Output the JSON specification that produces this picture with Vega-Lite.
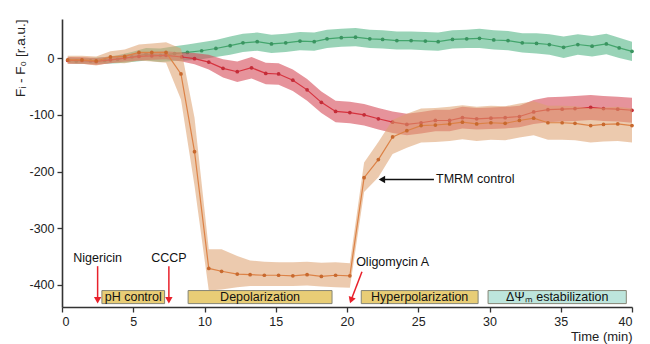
{
  "$schema": "https://vega.github.io/schema/vega-lite/v6.json",
  "width": 570,
  "height": 288,
  "autosize": {"type": "none"},
  "padding": {"left": 62, "top": 19, "right": 18, "bottom": 37},
  "background": "white",
  "config": {
    "view": {"stroke": null},
    "font": "Liberation Sans",
    "axis": {
      "grid": false,
      "domainColor": "#333",
      "domainWidth": 1.6,
      "tickColor": "#333",
      "tickWidth": 1.3,
      "labelFont": "Liberation Sans",
      "labelFontSize": 12.5,
      "labelColor": "#222",
      "titleFont": "Liberation Sans",
      "titleFontSize": 13,
      "titleFontWeight": "normal",
      "titleColor": "#222"
    }
  },
  "datasets": {
    "series": [
      {"s": "g", "t": 0.5, "v": -4, "lo": -9, "hi": 1},
      {"s": "g", "t": 1.0, "v": -5, "lo": -10, "hi": 0},
      {"s": "g", "t": 2.0, "v": -5, "lo": -10, "hi": 0},
      {"s": "g", "t": 3.0, "v": -4, "lo": -10, "hi": 2},
      {"s": "g", "t": 3.9, "v": -2, "lo": -9, "hi": 5},
      {"s": "g", "t": 4.9, "v": 2, "lo": -7, "hi": 11},
      {"s": "g", "t": 5.9, "v": 7, "lo": -4, "hi": 18},
      {"s": "g", "t": 6.9, "v": 5, "lo": -7, "hi": 17},
      {"s": "g", "t": 7.9, "v": 8, "lo": -5, "hi": 21},
      {"s": "g", "t": 8.8, "v": 10, "lo": -4, "hi": 24},
      {"s": "g", "t": 9.8, "v": 13, "lo": -2, "hi": 28},
      {"s": "g", "t": 10.8, "v": 17, "lo": 2, "hi": 32},
      {"s": "g", "t": 11.8, "v": 22, "lo": 6, "hi": 38},
      {"s": "g", "t": 12.7, "v": 27, "lo": 11, "hi": 43},
      {"s": "g", "t": 13.7, "v": 29, "lo": 13, "hi": 45},
      {"s": "g", "t": 14.7, "v": 25, "lo": 9, "hi": 41},
      {"s": "g", "t": 15.7, "v": 27, "lo": 11, "hi": 43},
      {"s": "g", "t": 16.7, "v": 30, "lo": 14, "hi": 46},
      {"s": "g", "t": 17.7, "v": 29, "lo": 13, "hi": 45},
      {"s": "g", "t": 18.6, "v": 34, "lo": 18, "hi": 50},
      {"s": "g", "t": 19.6, "v": 36, "lo": 20, "hi": 52},
      {"s": "g", "t": 20.6, "v": 37, "lo": 21, "hi": 53},
      {"s": "g", "t": 21.6, "v": 34, "lo": 18, "hi": 50},
      {"s": "g", "t": 22.5, "v": 33, "lo": 17, "hi": 49},
      {"s": "g", "t": 23.5, "v": 31, "lo": 15, "hi": 47},
      {"s": "g", "t": 24.5, "v": 31, "lo": 15, "hi": 47},
      {"s": "g", "t": 25.5, "v": 30, "lo": 14, "hi": 46},
      {"s": "g", "t": 26.4, "v": 29, "lo": 13, "hi": 45},
      {"s": "g", "t": 27.4, "v": 33, "lo": 17, "hi": 49},
      {"s": "g", "t": 28.4, "v": 34, "lo": 18, "hi": 50},
      {"s": "g", "t": 29.3, "v": 35, "lo": 18, "hi": 52},
      {"s": "g", "t": 30.3, "v": 32, "lo": 15, "hi": 49},
      {"s": "g", "t": 31.3, "v": 31, "lo": 14, "hi": 48},
      {"s": "g", "t": 32.3, "v": 27, "lo": 10, "hi": 44},
      {"s": "g", "t": 33.3, "v": 26, "lo": 8, "hi": 44},
      {"s": "g", "t": 34.2, "v": 24, "lo": 6, "hi": 42},
      {"s": "g", "t": 35.2, "v": 19, "lo": 0, "hi": 38},
      {"s": "g", "t": 36.2, "v": 24, "lo": 6, "hi": 42},
      {"s": "g", "t": 37.2, "v": 21, "lo": 3, "hi": 39},
      {"s": "g", "t": 38.2, "v": 25, "lo": 7, "hi": 43},
      {"s": "g", "t": 39.1, "v": 18, "lo": 0, "hi": 36},
      {"s": "g", "t": 40.0, "v": 12, "lo": -5, "hi": 29},

      {"s": "r", "t": 0.4, "v": -4, "lo": -10, "hi": 2},
      {"s": "r", "t": 1.4, "v": -4, "lo": -10, "hi": 2},
      {"s": "r", "t": 2.4, "v": -6, "lo": -12, "hi": 0},
      {"s": "r", "t": 3.4, "v": -3, "lo": -9, "hi": 3},
      {"s": "r", "t": 4.4, "v": 0, "lo": -6, "hi": 6},
      {"s": "r", "t": 5.4, "v": 3, "lo": -4, "hi": 10},
      {"s": "r", "t": 6.3, "v": 4, "lo": -3, "hi": 11},
      {"s": "r", "t": 7.3, "v": 5, "lo": -2, "hi": 12},
      {"s": "r", "t": 8.4, "v": 2, "lo": -6, "hi": 10},
      {"s": "r", "t": 9.3, "v": -1, "lo": -11, "hi": 9},
      {"s": "r", "t": 10.3, "v": -7, "lo": -20, "hi": 6},
      {"s": "r", "t": 11.3, "v": -18, "lo": -34, "hi": -2},
      {"s": "r", "t": 12.3, "v": -24, "lo": -42, "hi": -6},
      {"s": "r", "t": 13.3, "v": -17, "lo": -36, "hi": 2},
      {"s": "r", "t": 14.3, "v": -27, "lo": -46, "hi": -8},
      {"s": "r", "t": 15.2, "v": -28, "lo": -47, "hi": -9},
      {"s": "r", "t": 16.2, "v": -39, "lo": -58, "hi": -20},
      {"s": "r", "t": 17.2, "v": -56, "lo": -75, "hi": -37},
      {"s": "r", "t": 18.2, "v": -78, "lo": -97, "hi": -59},
      {"s": "r", "t": 19.2, "v": -94, "lo": -113, "hi": -75},
      {"s": "r", "t": 20.2, "v": -96, "lo": -115, "hi": -77},
      {"s": "r", "t": 21.2, "v": -100, "lo": -119, "hi": -81},
      {"s": "r", "t": 22.2, "v": -107, "lo": -126, "hi": -88},
      {"s": "r", "t": 23.2, "v": -113, "lo": -132, "hi": -94},
      {"s": "r", "t": 24.2, "v": -117, "lo": -136, "hi": -98},
      {"s": "r", "t": 25.2, "v": -114, "lo": -133, "hi": -95},
      {"s": "r", "t": 26.2, "v": -110, "lo": -129, "hi": -91},
      {"s": "r", "t": 27.2, "v": -110, "lo": -129, "hi": -91},
      {"s": "r", "t": 28.1, "v": -105, "lo": -124, "hi": -86},
      {"s": "r", "t": 29.1, "v": -107, "lo": -126, "hi": -88},
      {"s": "r", "t": 30.1, "v": -106, "lo": -125, "hi": -87},
      {"s": "r", "t": 31.1, "v": -105, "lo": -124, "hi": -86},
      {"s": "r", "t": 32.1, "v": -103, "lo": -122, "hi": -84},
      {"s": "r", "t": 33.1, "v": -95, "lo": -116, "hi": -74},
      {"s": "r", "t": 34.1, "v": -91, "lo": -113, "hi": -69},
      {"s": "r", "t": 35.1, "v": -90, "lo": -112, "hi": -68},
      {"s": "r", "t": 36.0, "v": -89, "lo": -111, "hi": -67},
      {"s": "r", "t": 37.1, "v": -87, "lo": -109, "hi": -65},
      {"s": "r", "t": 38.0, "v": -89, "lo": -111, "hi": -67},
      {"s": "r", "t": 39.0, "v": -90, "lo": -112, "hi": -68},
      {"s": "r", "t": 40.0, "v": -92, "lo": -114, "hi": -70},

      {"s": "o", "t": 0.4, "v": -3, "lo": -10, "hi": 4},
      {"s": "o", "t": 1.4, "v": -3, "lo": -10, "hi": 4},
      {"s": "o", "t": 2.4, "v": -5, "lo": -13, "hi": 3},
      {"s": "o", "t": 3.4, "v": 2, "lo": -8, "hi": 12},
      {"s": "o", "t": 4.4, "v": 3, "lo": -9, "hi": 15},
      {"s": "o", "t": 5.4, "v": 10, "lo": -4, "hi": 24},
      {"s": "o", "t": 6.3, "v": 10, "lo": -6, "hi": 26},
      {"s": "o", "t": 7.3, "v": 10, "lo": -8, "hi": 28},
      {"s": "o", "t": 8.35, "v": -28, "lo": -73, "hi": 17},
      {"s": "o", "t": 9.3, "v": -165, "lo": -225, "hi": -105},
      {"s": "o", "t": 10.3, "v": -371, "lo": -410, "hi": -337},
      {"s": "o", "t": 11.2, "v": -376, "lo": -408, "hi": -337},
      {"s": "o", "t": 12.3, "v": -381, "lo": -404, "hi": -349},
      {"s": "o", "t": 13.2, "v": -382, "lo": -402, "hi": -357},
      {"s": "o", "t": 14.2, "v": -383, "lo": -402, "hi": -359},
      {"s": "o", "t": 15.2, "v": -383, "lo": -402, "hi": -360},
      {"s": "o", "t": 16.2, "v": -384, "lo": -402, "hi": -360},
      {"s": "o", "t": 17.2, "v": -382, "lo": -401, "hi": -359},
      {"s": "o", "t": 18.2, "v": -385, "lo": -403, "hi": -361},
      {"s": "o", "t": 19.2, "v": -383, "lo": -404, "hi": -360},
      {"s": "o", "t": 20.2, "v": -384, "lo": -405, "hi": -362},
      {"s": "o", "t": 21.2, "v": -211, "lo": -236, "hi": -184},
      {"s": "o", "t": 22.2, "v": -179, "lo": -210, "hi": -148},
      {"s": "o", "t": 23.2, "v": -139, "lo": -169, "hi": -109},
      {"s": "o", "t": 24.2, "v": -128, "lo": -158, "hi": -98},
      {"s": "o", "t": 25.2, "v": -119, "lo": -149, "hi": -89},
      {"s": "o", "t": 26.2, "v": -118, "lo": -148, "hi": -88},
      {"s": "o", "t": 27.2, "v": -116, "lo": -146, "hi": -86},
      {"s": "o", "t": 28.1, "v": -113, "lo": -143, "hi": -83},
      {"s": "o", "t": 29.1, "v": -116, "lo": -146, "hi": -86},
      {"s": "o", "t": 30.1, "v": -114, "lo": -144, "hi": -84},
      {"s": "o", "t": 31.1, "v": -115, "lo": -145, "hi": -85},
      {"s": "o", "t": 32.1, "v": -110, "lo": -140, "hi": -80},
      {"s": "o", "t": 33.1, "v": -106, "lo": -136, "hi": -76},
      {"s": "o", "t": 34.1, "v": -114, "lo": -144, "hi": -84},
      {"s": "o", "t": 35.1, "v": -114, "lo": -144, "hi": -84},
      {"s": "o", "t": 36.0, "v": -115, "lo": -145, "hi": -85},
      {"s": "o", "t": 37.1, "v": -119, "lo": -149, "hi": -89},
      {"s": "o", "t": 38.0, "v": -117, "lo": -147, "hi": -87},
      {"s": "o", "t": 39.0, "v": -116, "lo": -146, "hi": -86},
      {"s": "o", "t": 40.0, "v": -119, "lo": -149, "hi": -89}
    ],
    "phases": [
      {"name": "pH control", "kind": "drug", "x1": 2.8, "x2": 7.2, "xc": 5.0, "y1": -410, "y2": -433, "yc": -421},
      {"name": "Depolarization", "kind": "drug", "x1": 8.85, "x2": 18.95, "xc": 13.9, "y1": -410, "y2": -433, "yc": -421},
      {"name": "Hyperpolarization", "kind": "drug", "x1": 21.0, "x2": 29.2, "xc": 25.1, "y1": -410, "y2": -433, "yc": -421},
      {"name": "ΔΨₘ estabilization", "kind": "stab", "x1": 29.9, "x2": 39.6, "xc": 34.75, "y1": -410, "y2": -433, "yc": -421}
    ],
    "arrows": [
      {"name": "Nigericin", "kind": "red", "dir": "down", "x1": 2.5, "y1": -367, "x2": 2.5, "y2": -424, "hx": 2.5, "hy": -427},
      {"name": "CCCP", "kind": "red", "dir": "down", "x1": 7.5, "y1": -367, "x2": 7.5, "y2": -424, "hx": 7.5, "hy": -427},
      {"name": "Oligomycin A", "kind": "red", "dir": "diag", "x1": 21.05, "y1": -377, "x2": 20.33, "y2": -424, "hx": 20.29, "hy": -427},
      {"name": "TMRM control", "kind": "black", "dir": "left", "x1": 26.1, "y1": -214, "x2": 22.6, "y2": -214, "hx": 22.45, "hy": -214}
    ],
    "labels": [
      {"text": "Nigericin", "t": 2.5, "v": -352},
      {"text": "CCCP", "t": 7.5, "v": -352},
      {"text": "Oligomycin A", "t": 23.2, "v": -360},
      {"text": "TMRM control", "t": 29.0, "v": -214}
    ]
  },
  "layer": [
    {
      "data": {"name": "series"},
      "transform": [{"filter": "datum.s === 'g'"}],
      "mark": {"type": "area", "color": "#4fb383", "opacity": 0.58},
      "encoding": {
        "x": {"field": "t", "type": "quantitative", "scale": {"domain": [0, 40], "nice": false, "zero": false},
          "axis": {"title": "Time (min)", "titleAnchor": "end", "titlePadding": 3,
            "values": [0, 2.5, 5, 7.5, 10, 12.5, 15, 17.5, 20, 22.5, 25, 27.5, 30, 32.5, 35, 37.5, 40],
            "labelExpr": "datum.value % 5 === 0 ? datum.label : ''",
            "tickSize": {"condition": {"test": "datum.value % 5 === 0", "value": 5}, "value": 3},
            "labelPadding": 3}},
        "y": {"field": "lo", "type": "quantitative", "scale": {"domain": [-439, 69], "nice": false, "zero": false},
          "axis": {"title": "Fᵢ - F₀ [r.a.u.]", "titleAnchor": "end", "titlePadding": 1, "titleFontSize": 13.5,
            "values": [-400, -350, -300, -250, -200, -150, -100, -50, 0],
            "labelExpr": "datum.value % 100 === 0 ? toString(datum.value) : ''",
            "tickSize": {"condition": {"test": "datum.value % 100 === 0", "value": 5}, "value": 3},
            "labelPadding": 3}},
        "y2": {"field": "hi"}
      }
    },
    {
      "data": {"name": "series"},
      "transform": [{"filter": "datum.s === 'g'"}],
      "mark": {"type": "line", "color": "#43a56c", "strokeWidth": 1.2, "point": {"filled": true, "size": 14, "color": "#3a9460"}},
      "encoding": {"x": {"field": "t", "type": "quantitative"}, "y": {"field": "v", "type": "quantitative"}}
    },
    {
      "data": {"name": "series"},
      "transform": [{"filter": "datum.s === 'r'"}],
      "mark": {"type": "area", "color": "#d64b58", "opacity": 0.6},
      "encoding": {"x": {"field": "t", "type": "quantitative"}, "y": {"field": "lo", "type": "quantitative"}, "y2": {"field": "hi"}}
    },
    {
      "data": {"name": "series"},
      "transform": [{"filter": "datum.s === 'r'"}],
      "mark": {"type": "line", "color": "#d6323e", "strokeWidth": 1.2, "point": {"filled": true, "size": 14, "color": "#c42c38"}},
      "encoding": {"x": {"field": "t", "type": "quantitative"}, "y": {"field": "v", "type": "quantitative"}}
    },
    {
      "data": {"name": "series"},
      "transform": [{"filter": "datum.s === 'o'"}],
      "mark": {"type": "area", "color": "#dc9f6c", "opacity": 0.55},
      "encoding": {"x": {"field": "t", "type": "quantitative"}, "y": {"field": "lo", "type": "quantitative"}, "y2": {"field": "hi"}}
    },
    {
      "data": {"name": "series"},
      "transform": [{"filter": "datum.s === 'o'"}],
      "mark": {"type": "line", "color": "#dc8246", "strokeWidth": 1.2, "point": {"filled": true, "size": 14, "color": "#c8692e"}},
      "encoding": {"x": {"field": "t", "type": "quantitative"}, "y": {"field": "v", "type": "quantitative"}}
    },
    {
      "data": {"name": "phases"},
      "mark": {"type": "rect", "stroke": "#858575", "strokeWidth": 1},
      "encoding": {
        "x": {"field": "x1", "type": "quantitative"},
        "x2": {"field": "x2"},
        "y": {"field": "y1", "type": "quantitative"},
        "y2": {"field": "y2"},
        "fill": {"field": "kind", "type": "nominal", "scale": {"domain": ["drug", "stab"], "range": ["#e8cd76", "#bde5dc"]}, "legend": null}
      }
    },
    {
      "data": {"name": "phases"},
      "mark": {"type": "text", "fontSize": 12.5, "color": "#111", "baseline": "middle", "align": "center"},
      "encoding": {
        "x": {"field": "xc", "type": "quantitative"},
        "y": {"field": "yc", "type": "quantitative"},
        "text": {"field": "name"}
      }
    },
    {
      "data": {"name": "arrows"},
      "mark": {"type": "rule", "strokeWidth": 1.5},
      "encoding": {
        "x": {"field": "x1", "type": "quantitative"},
        "x2": {"field": "x2"},
        "y": {"field": "y1", "type": "quantitative"},
        "y2": {"field": "y2"},
        "color": {"field": "kind", "type": "nominal", "scale": {"domain": ["red", "black"], "range": ["#e8212b", "#111111"]}, "legend": null}
      }
    },
    {
      "data": {"name": "arrows"},
      "transform": [{"filter": "datum.dir === 'down'"}],
      "mark": {"type": "point", "shape": "triangle-down", "filled": true, "size": 55, "opacity": 1, "color": "#e8212b"},
      "encoding": {"x": {"field": "hx", "type": "quantitative"}, "y": {"field": "hy", "type": "quantitative"}}
    },
    {
      "data": {"name": "arrows"},
      "transform": [{"filter": "datum.dir === 'diag'"}],
      "mark": {"type": "point", "shape": "triangle-down", "filled": true, "size": 55, "opacity": 1, "color": "#e8212b", "angle": 20},
      "encoding": {"x": {"field": "hx", "type": "quantitative"}, "y": {"field": "hy", "type": "quantitative"}}
    },
    {
      "data": {"name": "arrows"},
      "transform": [{"filter": "datum.dir === 'left'"}],
      "mark": {"type": "point", "shape": "triangle-down", "filled": true, "size": 55, "opacity": 1, "color": "#111111", "angle": 90},
      "encoding": {"x": {"field": "hx", "type": "quantitative"}, "y": {"field": "hy", "type": "quantitative"}}
    },
    {
      "data": {"name": "labels"},
      "mark": {"type": "text", "fontSize": 12.5, "color": "#111", "baseline": "middle", "align": "center"},
      "encoding": {
        "x": {"field": "t", "type": "quantitative"},
        "y": {"field": "v", "type": "quantitative"},
        "text": {"field": "text"}
      }
    }
  ]
}
